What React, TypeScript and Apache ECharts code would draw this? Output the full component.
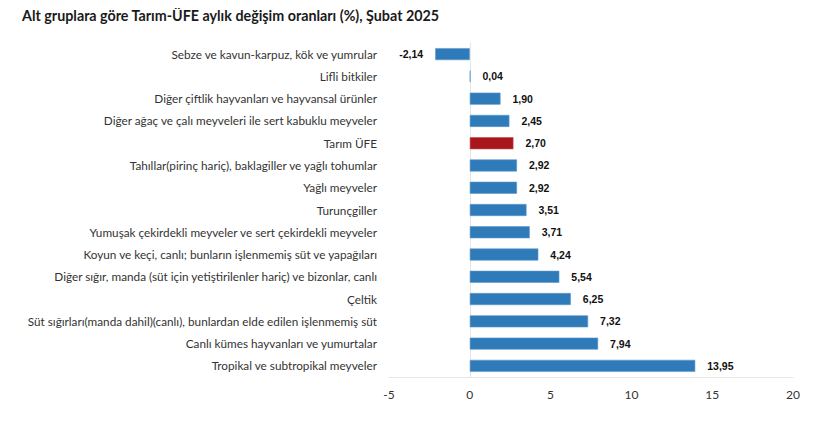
import React, { useEffect, useRef } from "react";
import * as echarts from "echarts";

const categories = [
  "Sebze ve kavun-karpuz, kök ve yumrular",
  "Lifli bitkiler",
  "Diğer çiftlik hayvanları ve hayvansal ürünler",
  "Diğer ağaç ve çalı meyveleri ile sert kabuklu meyveler",
  "Tarım ÜFE",
  "Tahıllar(pirinç hariç), baklagiller ve yağlı tohumlar",
  "Yağlı meyveler",
  "Turunçgiller",
  "Yumuşak çekirdekli meyveler ve sert çekirdekli meyveler",
  "Koyun ve keçi, canlı; bunların işlenmemiş süt ve yapağıları",
  "Diğer sığır, manda (süt için yetiştirilenler hariç) ve bizonlar, canlı",
  "Çeltik",
  "Süt sığırları(manda dahil)(canlı), bunlardan elde edilen işlenmemiş süt",
  "Canlı kümes hayvanları ve yumurtalar",
  "Tropikal ve subtropikal meyveler",
];
const values = [-2.14, 0.04, 1.9, 2.45, 2.7, 2.92, 2.92, 3.51, 3.71, 4.24, 5.54, 6.25, 7.32, 7.94, 13.95];
const highlight = "Tarım ÜFE";

export default function App() {
  const ref = useRef<HTMLDivElement>(null);
  useEffect(() => {
    if (!ref.current) return;
    const chart = echarts.init(ref.current, undefined, { renderer: "svg" });
    const font = "Lato, 'Open Sans', sans-serif";
    chart.setOption({
      animation: false,
      title: {
        text: "Alt gruplara göre Tarım-ÜFE aylık değişim oranları (%), Şubat 2025",
        left: 14,
        top: 0,
        padding: 0,
        textStyle: { fontFamily: font, fontSize: 14.3, fontWeight: "bold", color: "#1a1a1a" },
      },
      grid: { left: 381, right: 23, top: 35, bottom: 46, containLabel: false },
      xAxis: {
        type: "value",
        min: -5,
        max: 20,
        interval: 5,
        splitLine: { show: false },
        axisLine: { show: true, lineStyle: { color: "#e6e6e6", width: 1 } },
        axisTick: { show: false },
        axisLabel: { fontFamily: font, fontSize: 12, color: "#333", margin: 11 },
      },
      yAxis: {
        type: "category",
        inverse: true,
        data: categories,
        axisLine: { show: true, lineStyle: { color: "#e6e6e6", width: 1 } },
        axisTick: { show: false },
        axisLabel: { fontFamily: font, fontSize: 11.75, color: "#333", margin: 12 },
      },
      series: [
        {
          type: "bar",
          barWidth: 12,
          data: values.map((v, i) => ({
            value: v,
            itemStyle: {
              color: categories[i] === highlight ? "#A9171C" : "#2F7AB8",
              borderColor: categories[i] === highlight ? "#C04A4E" : "#5C98CB",
              borderWidth: 0.6,
            },
            label: {
              position: v < 0 ? "left" : "right",
            },
          })),
          label: {
            show: true,
            distance: 12,
            fontFamily: "'Liberation Sans', Arial, sans-serif",
            fontSize: 10.5,
            fontWeight: "bold",
            color: "#111",
            formatter: (p: any) => Number(p.value).toFixed(2).replace(".", ","),
          },
        },
      ],
    });
    return () => chart.dispose();
  }, []);
  return <div ref={ref} style={{ width: 808, height: 415 }} />;
}
